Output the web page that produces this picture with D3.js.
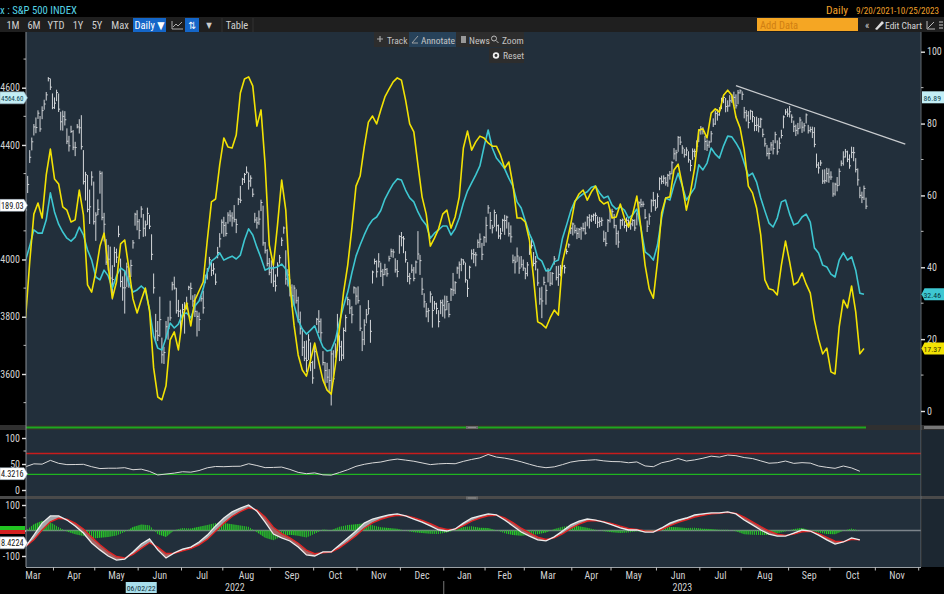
<!DOCTYPE html>
<html><head><meta charset="utf-8"><title>S&P 500 INDEX</title>
<script src="https://cdn.jsdelivr.net/npm/d3@7/dist/d3.min.js"></script>
<style>
html,body{margin:0;padding:0;background:#000;width:944px;height:594px;overflow:hidden}
svg{display:block}
text{font-family:"Liberation Sans Narrow","Roboto Condensed","DejaVu Sans Condensed","Liberation Sans",Arial,sans-serif;font-stretch:condensed}
</style></head><body>
<svg width="944" height="594"></svg>
<script>
// ---------------- DATA ----------------
const startDate="2022-03-14";
const holidays=["2022-04-15","2022-05-30","2022-06-20","2022-07-04","2022-09-05","2022-11-24","2022-12-26","2023-01-02","2023-01-16","2023-02-20","2023-04-07","2023-05-29","2023-06-19","2023-07-04","2023-09-04","2023-11-23","2023-12-25"];
// S&P 500 daily closes (one per trading day from startDate)
const closes=[4173,4262,4357,4411,4463,4461,4511,4456,4520,4543,4575,4632,4602,4530,
4546,4583,4525,4481,4500,4488,4413,4397,4447,4392,4391,4463,4460,4394,4272,4296,4175,4184,4288,4132,
4155,4175,4300,4147,4123,3991,4001,3935,3930,4024,4008,4088,3923,3901,3901,3974,3941,3979,4058,4158,4132,
4101,4176,4109,4121,4161,4116,4018,3901,3750,3735,3790,3667,3675,3765,3760,3796,3912,3900,3821,3819,3785,
3825,3831,3845,3903,3899,3855,3819,3801,3790,3863,3831,3937,3960,3999,3962,3967,3921,4024,4072,4130,
4119,4091,4155,4152,4145,4140,4122,4210,4207,4280,4297,4305,4274,4284,4228,4138,4128,4141,4199,4058,4031,3986,3955,
3967,3924,3908,3980,4006,4067,4110,3932,3946,3901,3873,3900,3856,3790,3758,3693,3655,3647,3719,3640,3586,
3678,3791,3783,3744,3640,3612,3589,3577,3670,3583,3677,3720,3695,3666,3752,3797,3860,3830,3807,3901,3872,
3856,3760,3720,3771,3807,3828,3749,3956,3993,3957,3992,3959,3947,3965,3950,4003,4028,4026,3964,3958,4080,
4076,4072,3999,3941,3933,3963,3934,3991,4019,3996,3896,3852,3818,3821,3879,3822,3845,3829,3783,3849,3840,
3824,3853,3808,3895,3893,3919,3970,3983,3999,3991,3929,3899,3973,4020,4017,4016,4060,4071,4018,4077,
4119,4180,4136,4111,4164,4118,4082,4090,4137,4136,4148,4090,4079,3997,3991,4012,3970,3982,3970,
3951,3981,4046,4048,3986,3992,3918,3862,3855,3920,3892,3960,3917,3951,4002,3937,3948,3971,3977,3971,4028,4051,4109,
4124,4101,4091,4105,4109,4108,4092,4146,4138,4151,4155,4154,4130,4133,4137,4071,4056,4136,4169,
4167,4119,4091,4061,4136,4138,4119,4137,4130,4124,4136,4110,4159,4198,4192,4193,4146,4116,4151,4205,4206,4180,
4221,4282,4273,4284,4268,4294,4299,4338,4369,4373,4426,4410,4389,4366,4382,4348,4328,4378,4377,4396,4450,
4456,4447,4412,4399,4410,4439,4473,4510,4505,4522,4555,4566,4534,4536,4554,4567,4566,4537,4582,4589,
4577,4513,4502,4478,4518,4499,4468,4469,4464,4490,4437,4404,4370,4370,4400,4387,4436,4376,4406,4433,4498,4515,4508,
4516,4497,4465,4451,4457,4487,4462,4467,4505,4450,4454,4444,4402,4330,4320,4337,4274,4275,4300,4288,
4288,4229,4263,4258,4308,4336,4358,4376,4350,4327,4374,4373,4314,4278,4224,4217,4248,4186];
// points above close to the day's high
const hiOff=[40,30,25,15,10,35,10,45,15,15,10,5,30,50,
20,10,55,35,20,30,45,35,20,60,20,10,30,110,110,10,120,60,20,140,
10,35,10,160,40,80,50,110,50,20,30,30,80,40,60,15,30,20,10,5,40,
40,10,50,15,20,40,70,50,60,50,80,60,20,20,40,60,10,40,80,40,40,
20,20,25,5,20,20,60,20,25,10,60,10,10,10,35,20,30,20,20,10,
30,40,10,20,20,50,20,5,50,5,5,20,30,10,20,25,20,30,10,130,30,50,50,
30,60,40,10,10,10,5,100,20,30,40,10,40,80,60,60,60,70,20,70,60,
20,5,40,50,40,30,50,40,15,100,30,90,40,50,10,10,10,30,30,5,30,
50,80,30,20,20,30,40,5,10,40,30,30,20,20,20,10,10,10,40,40,5,
20,10,30,50,20,20,40,5,80,20,40,30,30,10,10,50,10,20,40,10,20,
50,20,40,5,60,5,5,10,5,10,60,30,5,15,20,10,10,20,40,5,
30,10,30,10,10,40,40,20,5,20,5,40,40,20,20,30,40,30,30,
20,10,10,30,40,20,50,40,50,20,20,10,40,5,10,40,30,10,10,10,10,5,5,
5,20,20,5,5,20,40,5,20,5,5,10,20,15,10,30,40,5,5,
10,40,30,40,5,5,15,10,10,20,5,30,5,5,20,10,30,20,10,5,30,30,
10,5,20,10,20,5,10,5,20,10,5,20,10,20,10,30,20,10,10,20,5,
10,15,20,20,5,10,20,10,20,10,10,10,30,20,20,10,20,40,10,5,
10,20,20,40,5,20,30,30,30,5,20,20,30,20,10,30,10,40,20,20,5,10,20,
20,10,20,20,20,10,20,10,5,20,10,20,60,40,20,10,40,40,20,30,
20,40,5,30,10,10,20,10,30,40,20,20,40,40,30,20,10,30];
// points below close to the day's low
const loOff=[20,30,20,30,30,20,20,10,30,20,20,10,10,5,
20,30,10,30,50,20,10,20,5,10,30,5,20,10,10,90,10,60,30,10,
90,20,70,10,60,10,40,10,70,50,20,10,20,45,90,70,40,40,20,40,30,
30,30,30,40,40,10,20,20,40,20,60,30,40,40,40,10,20,5,10,20,40,
40,90,20,10,40,20,20,70,40,10,20,20,30,20,20,20,10,20,30,40,
40,10,30,20,30,10,30,20,10,20,30,5,30,30,10,10,20,20,30,10,10,10,10,
50,20,20,40,20,20,20,20,40,30,40,60,10,10,20,30,10,40,70,30,20,
60,20,40,30,10,50,20,40,180,10,20,40,50,20,100,50,20,20,30,20,30,
10,10,40,70,30,20,40,40,10,20,20,20,40,20,10,10,20,20,10,20,60,
30,50,10,20,20,10,10,40,20,50,20,20,20,40,30,60,20,20,20,40,40,
30,30,10,40,20,40,20,50,40,10,10,30,40,20,30,40,20,30,20,30,
60,20,30,20,50,20,10,20,40,50,40,10,20,10,40,20,20,10,10,
20,40,30,10,10,30,10,20,60,10,50,40,10,40,20,10,40,30,10,20,10,10,20,
40,10,20,30,40,10,5,30,30,20,20,30,20,20,20,10,10,40,40,
20,10,40,20,30,20,10,40,20,20,20,10,40,40,10,10,5,20,30,40,20,10,
40,40,10,20,10,40,20,40,20,30,50,10,20,10,20,10,20,30,20,20,40,
20,10,30,20,20,30,10,40,20,20,30,20,20,20,20,20,30,10,40,10,
20,20,20,20,30,20,20,20,20,30,10,10,10,20,20,20,30,10,20,10,40,10,10,
20,20,20,20,20,30,20,20,30,10,10,20,10,10,20,10,10,10,30,20,
10,10,40,20,50,10,30,20,10,10,20,30,10,20,10,20,40,10];
// oscillators on the right axis, one value every 2 trading days
const oscStep=2;
const yellowVals=[25.9,41.5,54.8,57.9,53.7,65.7,72.9,64.6,63.2,56.8,
55.9,52.6,53.2,61.5,54.6,35.1,33.1,38.7,45.9,49.5,
40.4,31.4,35.9,46.5,47.6,39.8,31.2,27.3,30.9,34.2,
28.1,12.0,3.9,3.1,7.0,19.8,22.0,17.0,25.9,30.1,
23.7,30.9,33.4,35.9,47.6,58.2,59.0,68.5,76.0,73.5,
73.2,76.8,88.5,92.4,93.0,90.5,79.3,83.8,68.5,46.2,
40.6,51.8,64.3,55.9,35.1,23.9,15.6,11.4,9.7,14.2,
18.9,13.6,8.6,5.8,4.7,12.8,23.1,33.1,40.6,50.9,
62.6,65.4,73.5,80.4,82.1,79.9,83.8,87.4,89.6,91.6,
92.7,92.1,86.6,79.9,77.7,68.5,59.6,54.8,45.9,48.1,
50.7,54.8,55.9,50.9,54.0,59.6,73.2,77.9,72.6,74.9,
76.5,76.0,74.6,73.7,73.7,71.2,67.6,69.3,62.9,53.7,
53.7,52.6,47.6,37.0,24.8,24.2,23.1,25.9,28.1,26.7,
41.5,46.5,52.0,58.2,60.4,61.5,58.7,61.0,62.6,58.7,
57.6,58.2,53.7,54.0,57.6,53.7,51.2,54.8,59.8,50.9,
40.6,34.0,31.4,41.5,55.1,59.3,59.6,67.1,68.7,62.9,
55.9,61.0,67.6,78.2,78.5,76.0,82.9,84.1,83.2,87.9,
89.3,87.9,81.8,78.8,72.6,62.6,60.7,56.5,49.0,36.5,
34.0,33.7,32.3,40.6,47.3,41.5,35.1,35.9,38.4,35.3,
32.8,25.3,20.0,15.9,17.5,10.9,10.3,23.4,30.9,28.7,
34.8,27.6,15.9,17.4];
const cyanVals=[42.0,45.9,50.4,49.5,49.5,53.2,60.7,55.4,52.0,49.8,
48.1,47.3,48.4,51.2,49.0,44.8,42.0,37.3,36.5,39.2,
37.6,34.2,37.6,39.8,39.0,35.6,33.1,33.7,34.8,33.7,
28.1,20.9,17.5,17.0,20.3,24.5,23.1,24.2,27.0,27.3,
25.9,29.2,30.6,34.0,38.7,41.7,42.6,44.0,42.0,42.6,
43.1,42.3,43.4,47.6,50.7,49.0,45.6,42.6,39.2,39.8,
39.8,40.1,40.9,39.5,34.0,29.5,25.3,22.8,21.4,22.5,
23.7,20.6,17.8,16.7,17.0,19.8,24.8,29.2,33.1,38.4,
43.1,46.2,49.0,51.5,53.2,54.0,55.8,59.0,61.2,63.2,
64.6,64.3,61.5,59.3,58.2,55.4,53.2,51.8,48.1,49.5,
50.4,51.5,51.5,49.0,50.7,53.7,57.9,61.2,63.5,65.7,
68.2,73.5,78.2,73.2,70.4,69.0,67.4,64.8,62.6,58.2,
56.5,52.9,49.3,46.8,42.6,41.7,39.0,39.2,41.5,42.0,
48.1,51.8,55.7,58.4,59.5,60.4,61.0,62.3,62.6,60.7,
59.3,59.8,57.3,56.2,56.8,55.9,53.7,54.6,56.2,50.9,
44.3,43.4,42.0,46.2,53.7,59.3,58.7,62.9,66.2,62.6,
58.7,60.4,62.1,68.5,67.1,69.0,73.2,71.5,70.4,73.8,
76.5,76.3,74.6,72.6,69.0,65.4,66.2,63.7,59.3,55.7,
52.3,51.2,53.7,58.2,58.7,54.8,51.8,52.3,54.0,54.8,
52.6,45.4,44.0,40.6,40.1,38.1,37.3,42.0,44.0,42.0,
42.9,39.2,32.8,32.5];
// lower panels, one value every 4 trading days
const lowStep=4;
const rsiVals=[44.8,50.3,49.7,57.0,51.3,48.8,49.0,49.4,44.8,41.2,
41.9,41.9,42.9,39.0,40.1,35.8,28.9,30.7,32.5,35.1,
34.3,37.4,42.7,45.2,44.8,45.5,45.7,50.5,47.1,43.0,
43.4,44.1,39.6,33.9,31.4,32.9,29.1,28.6,33.6,39.0,
45.5,49.4,52.1,53.8,57.3,59.5,57.5,55.3,52.1,48.8,
50.3,51.0,50.5,55.1,58.8,61.8,68.3,63.3,61.3,58.2,
54.2,49.5,45.2,42.9,44.5,48.8,53.7,56.2,57.2,58.2,
56.0,54.7,54.4,52.4,54.0,46.3,44.8,52.4,55.7,60.5,
55.7,57.9,61.1,65.1,63.3,67.2,66.0,62.4,60.5,56.0,
51.5,52.4,55.7,51.2,52.6,51.7,46.1,43.6,41.7,46.1,
42.4,36.0];
const macdVals=[-63,-18,29,57,57,41,18,-10,-49,-76,
-100,-116,-112,-84,-53,-33,-76,-108,-88,-73,
-65,-45,-18,18,49,73,88,100,76,33,
-14,-29,-41,-65,-96,-100,-84,-84,-57,-29,
-2,29,45,53,61,65,57,45,33,18,
2,-2,6,29,49,57,65,61,41,18,
-6,-22,-37,-41,-25,-2,22,37,45,41,
33,22,10,2,2,-6,-6,10,29,41,
49,61,65,69,69,73,65,41,22,2,
-14,-22,-22,-10,2,-2,-18,-37,-53,-45,
-29,-37];
const signalVals=[-63,-36,2,34,48,44,29,6,-26,-56,
-82,-102,-108,-94,-70,-48,-65,-90,-89,-80,
-71,-56,-34,-3,28,55,74,89,81,53,
13,-12,-29,-50,-77,-91,-87,-85,-68,-45,
-20,9,30,44,54,60,58,50,40,27,
12,4,5,19,37,49,58,60,49,31,
9,-9,-26,-35,-29,-13,8,25,37,39,
35,27,17,8,4,-2,-4,4,19,32,
42,53,60,65,67,71,67,52,34,15,
-2,-14,-19,-14,-5,-3,-12,-27,-42,-44,
-35,-36];
const histVals=[0,25,38,32,13,-4,-15,-22,-32,-28,
-25,-20,-6,14,24,21,-15,-25,1,10,
8,15,22,29,29,25,20,15,-7,-28,
-38,-24,-17,-21,-27,-13,4,1,15,22,
25,28,21,13,10,7,-1,-7,-10,-13,
-14,-8,1,14,17,11,10,1,-11,-18,
-21,-18,-15,-8,6,15,20,17,11,3,
-3,-7,-10,-8,-3,-6,-3,8,14,13,
10,11,7,6,3,3,-3,-15,-17,-18,
-17,-11,-4,6,10,1,-8,-14,-15,-1,
8,-1];
const trendDates=["2023-07-27","2023-11-21"];
const trendVals=[4607,4403];
const priceTicks=[3600,3800,4000,4200,4400,4600];
const hiddenPriceTick=4200; // covered by the last-price tag
const oscTicks=[0,20,40,60,80,100];
const rsiTicks=[0,50,100];
const rsiBands=[70,30];
const macdTicks=[-100,0,100];
const priceLabels=[4564.60,4189.03];
const oscLabels=[86.89,32.46,17.37];
const rsiLast=34.3216;
const macdLast=-48.4224;
const cursorDate="2022-06-02";
const rangeButtons=["1M","6M","YTD","1Y","5Y","Max"];
const titleText="x : S&P 500 INDEX";
const periodText=["Daily","9/20/2021-10/25/2023"];

// ---------------- LAYOUT ----------------
const svg=d3.select("svg");
const defs=svg.append("defs");
const PL=26,PR=921;
const P={main:[32,425],rsi:[430,496],macd:[499,567]};
const BG="#222f3b";
svg.append("rect").attr("width",944).attr("height",594).attr("fill","#000");
svg.append("rect").attr("x",0).attr("y",17).attr("width",944).attr("height",15).attr("fill","#1f1f1f");
Object.entries(P).forEach(([k,[t,b]])=>{
  svg.append("rect").attr("x",PL).attr("y",t).attr("width",PR-PL).attr("height",b-t).attr("fill",BG);
  defs.append("clipPath").attr("id","c"+k).append("rect").attr("x",PL).attr("y",t).attr("width",PR-PL).attr("height",b-t);
  if(k!=="main") svg.append("rect").attr("x",PR+1).attr("y",t).attr("width",944-PR).attr("height",b-t).attr("fill","#1c2731");
});
svg.append("rect").attr("x",0).attr("y",425).attr("width",944).attr("height",5).attr("fill","#303030");
svg.append("line").attr("x1",PL).attr("x2",866).attr("y1",427.5).attr("y2",427.5).attr("stroke","#1ea81e").attr("stroke-width",2);
svg.append("rect").attr("x",0).attr("y",496).attr("width",944).attr("height",3).attr("fill","#4a4a4a");
[[466,426],[466,496.5]].forEach(([gx,gy])=>{
  svg.append("rect").attr("x",gx).attr("y",gy).attr("width",12).attr("height",3).attr("fill","#6a6a6a");
  svg.append("line").attr("x1",gx+2).attr("x2",gx+10).attr("y1",gy+1.5).attr("y2",gy+1.5).attr("stroke","#aaa").attr("stroke-width",0.6);
});
svg.append("rect").attr("x",924).attr("y",426).attr("width",20).attr("height",3).attr("fill","#777");

// ---------------- SCALES ----------------
const fmtD=d3.timeFormat("%Y-%m-%d");
const hol=new Set(holidays);
const cal=d3.timeDay.range(new Date(2022,2,1),new Date(2024,0,1)).filter(d=>d.getDay()%6!==0&&!hol.has(fmtD(d)));
const i0=cal.findIndex(d=>fmtD(d)===startDate);
const idxOf=s=>cal.findIndex(d=>fmtD(d)===s)-i0;
const x=d3.scaleLinear().domain([0,434]).range([25.6,921.8]);
const yP=d3.scaleLinear().domain([3600,4600]).range([374,87.7]);
const yR=d3.scaleLinear().domain([0,100]).range([411,51.7]);
const yI=d3.scaleLinear().domain([0,100]).range([490,438]);
const yM=d3.scaleLinear().domain([-100,100]).range([556,505]);

// shrink the font of a text until it fits the given width
function fit(sel,maxW){
  const fs=parseFloat(sel.style("font-size"));
  const w=sel.node().getComputedTextLength();
  if(w>maxW) sel.style("font-size",(fs*maxW/w).toFixed(2)+"px");
  return sel;
}

// ---------------- MAIN PANEL ----------------
const gm=svg.append("g").attr("clip-path","url(#cmain)");
const n=Math.min(closes.length,hiOff.length,loOff.length);
const bars=d3.range(n).map(i=>({i,c:closes[i],h:closes[i]+hiOff[i],l:closes[i]-loOff[i]}));
gm.append("path")
  .attr("d",bars.map(b=>`M${x(b.i)},${yP(b.h)}V${yP(b.l)}M${x(b.i)},${yP(b.c)}h1.5`).join(""))
  .attr("fill","none").attr("stroke","#d3d6d9").attr("stroke-width",1);
const lineR=d3.line().x(d=>x(d.i)).y(d=>yR(d.v));
const cyanPts=cyanVals.map((v,k)=>({i:k*oscStep,v}));
const yellowPts=yellowVals.map((v,k)=>({i:k*oscStep,v}));
gm.append("path").attr("d",lineR(cyanPts)).attr("fill","none").attr("stroke","#3ec7d1").attr("stroke-width",1.6).attr("stroke-linejoin","round");
gm.append("path").attr("d",lineR(yellowPts)).attr("fill","none").attr("stroke","#f2e204").attr("stroke-width",1.6).attr("stroke-linejoin","round");
gm.append("line")
  .attr("x1",x(idxOf(trendDates[0]))).attr("y1",yP(trendVals[0]))
  .attr("x2",x(idxOf(trendDates[1]))).attr("y2",yP(trendVals[1]))
  .attr("stroke","#c9cccf").attr("stroke-width",1.3);

// ---------------- RSI PANEL ----------------
const gr=svg.append("g").attr("clip-path","url(#crsi)");
gr.append("line").attr("x1",PL).attr("x2",PR).attr("y1",yI(rsiBands[0])).attr("y2",yI(rsiBands[0])).attr("stroke","#c81c1c").attr("stroke-width",1.5);
gr.append("line").attr("x1",PL).attr("x2",PR).attr("y1",yI(rsiBands[1])).attr("y2",yI(rsiBands[1])).attr("stroke","#1fb41f").attr("stroke-width",1.2);
const rsiPts=rsiVals.map((v,j)=>({i:j*lowStep,v}));
gr.append("path").attr("d",d3.line().x(d=>x(d.i)).y(d=>yI(d.v))(rsiPts)).attr("fill","none").attr("stroke","#d9d9d9").attr("stroke-width",1);

// ---------------- MACD PANEL ----------------
const gd=svg.append("g").attr("clip-path","url(#cmacd)");
gd.append("line").attr("x1",PL).attr("x2",PR).attr("y1",yM(0)).attr("y2",yM(0)).attr("stroke","#7c848b").attr("stroke-width",1.4);
const pat=defs.append("pattern").attr("id","stripe").attr("patternUnits","userSpaceOnUse").attr("width",2.065).attr("height",20);
pat.append("rect").attr("width",1.2).attr("height",20).attr("fill","#26cc26");
const hPts=histVals.map((v,j)=>({i:j*lowStep,v}));
gd.append("path").attr("d",d3.area().x(d=>x(d.i)).y0(yM(0)).y1(d=>yM(d.v))(hPts)).attr("fill","url(#stripe)");
const mPts=macdVals.map((v,j)=>({i:j*lowStep,m:v,s:signalVals[j]}));
defs.append("clipPath").attr("id","aboveS").append("path").attr("d",d3.area().x(d=>x(d.i)).y0(P.macd[0]).y1(d=>yM(d.s))(mPts));
defs.append("clipPath").attr("id","belowS").append("path").attr("d",d3.area().x(d=>x(d.i)).y0(P.macd[1]).y1(d=>yM(d.s))(mPts));
const areaMS=d3.area().x(d=>x(d.i)).y0(d=>yM(d.s)).y1(d=>yM(d.m));
gd.append("g").attr("clip-path","url(#aboveS)").append("path").attr("d",areaMS(mPts)).attr("fill","#a3a7ab");
gd.append("g").attr("clip-path","url(#belowS)").append("path").attr("d",areaMS(mPts)).attr("fill","#a26464");
gd.append("path").attr("d",d3.line().x(d=>x(d.i)).y(d=>yM(d.s))(mPts)).attr("fill","none").attr("stroke","#e02424").attr("stroke-width",1.4);
gd.append("path").attr("d",d3.line().x(d=>x(d.i)).y(d=>yM(d.m))(mPts)).attr("fill","none").attr("stroke","#ececec").attr("stroke-width",1.3);

// ---------------- FRAME / AXES ----------------
svg.append("line").attr("x1",PL).attr("x2",PL).attr("y1",32).attr("y2",567).attr("stroke","#8b9197").attr("stroke-width",1);
svg.append("line").attr("x1",PR).attr("x2",PR).attr("y1",32).attr("y2",567).attr("stroke","#5f666c").attr("stroke-width",1);
svg.append("line").attr("x1",PL).attr("x2",PR).attr("y1",567.5).attr("y2",567.5).attr("stroke","#9ba1a6").attr("stroke-width",1);

function styleAxis(g){
  g.select(".domain").remove();
  g.selectAll(".tick line").attr("stroke","#e0e0e0").attr("stroke-width",1.4);
  g.selectAll(".tick text").attr("fill","#d2d2d2").style("font-size","10px");
}
function minor(xx,dir,vals,sc){
  svg.append("g").selectAll("line").data(vals).join("line")
    .attr("x1",xx).attr("x2",xx+dir*2.5).attr("y1",d=>sc(d)).attr("y2",d=>sc(d))
    .attr("stroke","#bbb").attr("stroke-width",1);
}
svg.append("g").attr("transform",`translate(${PL},0)`)
  .call(d3.axisLeft(yP).tickValues(priceTicks).tickSize(4).tickPadding(2).tickFormat(v=>v===hiddenPriceTick?"":d3.format("d")(v)))
  .call(styleAxis);
minor(PL,-1,d3.range(3500,4701,100).filter(v=>!priceTicks.includes(v)),yP);
svg.append("g").attr("transform",`translate(${PR},0)`).call(d3.axisRight(yR).tickValues(oscTicks).tickSize(4).tickPadding(2).tickFormat(d3.format("d"))).call(styleAxis);
minor(PR,1,d3.range(10,100,10).filter(v=>!oscTicks.includes(v)),yR);
svg.append("g").attr("transform",`translate(${PL},0)`).call(d3.axisLeft(yI).tickValues(rsiTicks).tickSize(4).tickPadding(2)).call(styleAxis);
minor(PL,-1,[25,75],yI);
svg.append("g").attr("transform",`translate(${PL},0)`).call(d3.axisLeft(yM).tickValues(macdTicks).tickSize(4).tickPadding(2).tickFormat(v=>v===0?"":v)).call(styleAxis);
minor(PL,-1,[-50,50],yM);

// x axis (trading-day spacing)
const mStarts=cal.map((d,k)=>({d,i:k-i0})).filter((m,k)=>k===0||m.d.getMonth()!==cal[k-1].getMonth());
mStarts.push({d:null,i:cal.length-i0});
const gx=svg.append("g");
mStarts.slice(1,-1).forEach(m=>{
  const xx=x(m.i-0.5);
  if(xx>PL&&xx<PR) gx.append("line").attr("x1",xx).attr("x2",xx).attr("y1",567).attr("y2",570.5).attr("stroke","#bbb");
});
for(let k=0;k<mStarts.length-1;k++){
  const c=x((mStarts[k].i+mStarts[k+1].i)/2-0.5);
  if(c>PL&&c<PR-10) gx.append("text").attr("x",Math.max(c,33)).attr("y",579).attr("text-anchor","middle").attr("fill","#d2d2d2").style("font-size","10px").text(d3.timeFormat("%b")(mStarts[k].d));
}
const yb=x(idxOf("2023-01-03")-0.5);
gx.append("line").attr("x1",yb).attr("x2",yb).attr("y1",581).attr("y2",594).attr("stroke","#777");
gx.append("text").attr("x",(PL+yb)/2).attr("y",591).attr("text-anchor","middle").attr("fill","#d2d2d2").style("font-size","10px").text("2022");
gx.append("text").attr("x",(yb+PR)/2).attr("y",591).attr("text-anchor","middle").attr("fill","#d2d2d2").style("font-size","10px").text("2023");
const cx=x(idxOf(cursorDate));
gx.append("rect").attr("x",cx-15.5).attr("y",582).attr("width",31).attr("height",11).attr("fill","#a9dfec");
fit(gx.append("text").attr("x",cx).attr("y",591).attr("text-anchor","middle").attr("fill","#10303a").style("font-size","10px").text(d3.timeFormat("%m/%d/%y")(cal[idxOf(cursorDate)+i0])),29);

// ---------------- VALUE LABELS ----------------
function leftLabel(y,txt,bg,fg){
  svg.append("path").attr("d",`M0,${y-6}H24L27.5,${y}L24,${y+6}H0Z`).attr("fill",bg).attr("stroke","#9ab").attr("stroke-width",0.5);
  fit(svg.append("text").attr("x",23.5).attr("y",y+3.5).attr("text-anchor","end").attr("fill",fg).style("font-size","10px").text(txt),22.5);
}
function rightLabel(y,txt,bg,fg,arrow){
  svg.append("path").attr("d",arrow?`M944,${y-6}H924.5L921.5,${y}L924.5,${y+6}H944Z`:`M944,${y-6}H922V${y+6}H944Z`).attr("fill",bg);
  fit(svg.append("text").attr("x",923.5).attr("y",y+3.5).attr("fill",fg).style("font-size","10px").text(txt),17.5);
}
leftLabel(yP(priceLabels[0]),priceLabels[0].toFixed(2),"#c3eef5","#0d4450");
leftLabel(yP(priceLabels[1]),priceLabels[1].toFixed(2).slice(-6),"#ffffff","#111");
rightLabel(yR(oscLabels[0])-1.5,oscLabels[0].toFixed(2),"#c3eef5","#0d4450",false);
rightLabel(yR(oscLabels[1]),oscLabels[1].toFixed(2),"#3ec7d1","#06343a",true);
rightLabel(yR(oscLabels[2]),oscLabels[2].toFixed(2),"#f2e204","#333000",true);
leftLabel(yI(rsiLast)+1.5,rsiLast.toFixed(4).slice(-6),"#ffffff","#111");
svg.append("rect").attr("x",0).attr("y",yM(0)-4.5).attr("width",25).attr("height",4).attr("fill","#22c422");
svg.append("rect").attr("x",0).attr("y",yM(0)-0.5).attr("width",25).attr("height",4).attr("fill","#d42020");
leftLabel(yM(macdLast),macdLast.toFixed(4).slice(-6),"#ffffff","#111");

// ---------------- HEADER / TOOLBARS ----------------
fit(svg.append("text").attr("x",0).attr("y",14).attr("fill","#55d3e4").style("font-size","11.5px").text(titleText),77);
svg.append("text").attr("x",826).attr("y",14).attr("fill","#f0a02a").style("font-size","11.5px").text(periodText[0]);
fit(svg.append("text").attr("x",856).attr("y",14).attr("fill","#f0a02a").style("font-size","11.5px").text(periodText[1]),83);
const tbx=[13,34,56,78,97,120];
rangeButtons.forEach((t,k)=>svg.append("text").attr("x",tbx[k]).attr("y",29).attr("text-anchor","middle").attr("fill","#d0d0d0").style("font-size","10.5px").text(t));
svg.append("rect").attr("x",133).attr("y",18).attr("width",33).attr("height",14).attr("fill","#1466c8");
svg.append("text").attr("x",149.5).attr("y",29).attr("text-anchor","middle").attr("fill","#fff").style("font-size","10.5px").text("Daily ▼");
svg.append("path").attr("d","M172,21V29H183M173,27L176,24L178,26L182,22").attr("fill","none").attr("stroke","#bbb").attr("stroke-width",0.9);
svg.append("rect").attr("x",185).attr("y",18).attr("width",14).attr("height",14).attr("fill","#1466c8");
svg.append("text").attr("x",192).attr("y",29).attr("text-anchor","middle").attr("fill","#fff").style("font-size","10px").text("⇅");
svg.append("text").attr("x",209).attr("y",28).attr("text-anchor","middle").attr("fill","#ccc").style("font-size","8px").text("▼");
svg.append("line").attr("x1",222).attr("x2",222).attr("y1",18).attr("y2",32).attr("stroke","#333");
svg.append("text").attr("x",237).attr("y",29).attr("text-anchor","middle").attr("fill","#d0d0d0").style("font-size","10.5px").text("Table");
svg.append("line").attr("x1",253).attr("x2",253).attr("y1",18).attr("y2",32).attr("stroke","#333");
svg.append("rect").attr("x",757).attr("y",18).attr("width",101).attr("height",13).attr("fill","#f5a623");
svg.append("text").attr("x",760).attr("y",29).attr("fill","#d07f12").style("font-size","10.5px").text("Add Data");
svg.append("text").attr("x",865).attr("y",29).attr("fill","#d0d0d0").style("font-size","10.5px").text("«");
svg.append("path").attr("d","M875,29L882,21L884,23L877,30Z").attr("fill","#ddd");
fit(svg.append("text").attr("x",885).attr("y",29).attr("fill","#d8d8d8").style("font-size","10.5px").text("Edit Chart"),37);
svg.append("path").attr("d","M927,21V29H935M928,28L934,22").attr("fill","none").attr("stroke","#ccc").attr("stroke-width",0.9);
svg.append("path").attr("d","M939,22H943M939,25H943M939,28H943").attr("fill","none").attr("stroke","#ccc").attr("stroke-width",1);

// chart tools overlay
svg.append("rect").attr("x",374).attr("y",32).attr("width",150).attr("height",15).attr("fill","#2d2d2d");
svg.append("rect").attr("x",409).attr("y",32).attr("width",47).attr("height",15).attr("fill","#27425a");
svg.append("path").attr("d","M380,36V42M377,39H383").attr("stroke","#aaa").attr("stroke-width",1.2);
svg.append("text").attr("x",387).attr("y",43.5).attr("fill","#c4c4c4").style("font-size","9.5px").text("Track");
svg.append("path").attr("d","M412,43L418,36M412,43H418").attr("fill","none").attr("stroke","#aaa").attr("stroke-width",0.9);
svg.append("text").attr("x",421).attr("y",43.5).attr("fill","#c4c4c4").style("font-size","9.5px").text("Annotate");
svg.append("rect").attr("x",461).attr("y",36).attr("width",5).attr("height",7).attr("fill","#999");
svg.append("text").attr("x",469).attr("y",43.5).attr("fill","#c4c4c4").style("font-size","9.5px").text("News");
svg.append("circle").attr("cx",494).attr("cy",38.5).attr("r",2.5).attr("fill","none").attr("stroke","#bbb");
svg.append("line").attr("x1",496).attr("y1",40.5).attr("x2",498.5).attr("y2",43).attr("stroke","#bbb");
svg.append("text").attr("x",502).attr("y",43.5).attr("fill","#c4c4c4").style("font-size","9.5px").text("Zoom");
svg.append("rect").attr("x",489).attr("y",48).attr("width",35).attr("height",15).attr("fill","#2d2d2d");
svg.append("circle").attr("cx",496).attr("cy",55.5).attr("r",3.2).attr("fill","#eee");
svg.append("circle").attr("cx",496).attr("cy",55.5).attr("r",1.4).attr("fill","#2d2d2d");
svg.append("text").attr("x",503).attr("y",59).attr("fill","#c4c4c4").style("font-size","9.5px").text("Reset");
</script></body></html>
